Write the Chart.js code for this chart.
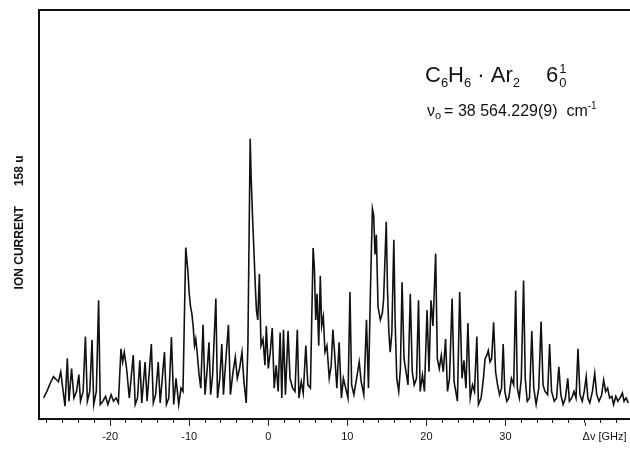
<!DOCTYPE html>
<html>
<head>
<meta charset="utf-8">
<title>C6H6·Ar2 6¹₀ band</title>
<script src="https://cdn.jsdelivr.net/npm/chart.js@4.4.1/dist/chart.umd.min.js"></script>
<style>
  html, body { margin: 0; padding: 0; background: #fff; }
  #wrap { width: 630px; height: 452px; }
</style>
</head>
<body>
<div id="wrap"><canvas id="chart" width="630" height="452"></canvas></div>
<script>
// frequency offset from the band origin, GHz
const shiftGHz = [
  -28.42, -28.0, -27.58, -27.17, -26.96, -26.75, -26.54, -26.25, -26.0, -25.71,
  -25.42, -25.21, -24.88, -24.58, -24.25, -23.96, -23.75, -23.42, -23.13, -22.88,
  -22.58, -22.29, -22.08, -21.75, -21.46, -21.25, -20.92, -20.58, -20.29, -19.88,
  -19.58, -19.25, -18.96, -18.63, -18.42, -18.21, -17.92, -17.58, -17.08, -16.83,
  -16.54, -16.25, -16.0, -15.58, -15.33, -14.79, -14.54, -14.25, -13.92, -13.67,
  -13.13, -12.88, -12.58, -12.25, -11.96, -11.67, -11.33, -11.04, -10.79, -10.44,
  -10.17, -10.0, -9.83, -9.67, -9.5, -9.33, -9.17, -9.0, -8.75, -8.54,
  -8.25, -8.0, -7.75, -7.5, -7.29, -7.04, -6.63, -6.42, -6.13, -5.88,
  -5.67, -5.42, -5.04, -4.79, -4.46, -4.17, -3.92, -3.63, -3.33, -3.08,
  -2.79, -2.58, -2.29, -2.17, -2.0, -1.83, -1.67, -1.5, -1.33, -1.13,
  -0.92, -0.67, -0.42, -0.25, 0.0, 0.25, 0.5, 0.75, 1.0, 1.25,
  1.5, 1.71, 1.92, 2.17, 2.5, 2.75, 3.08, 3.38, 3.67, 3.88,
  4.17, 4.42, 4.75, 5.0, 5.33, 5.67, 5.83, 6.0, 6.17, 6.38,
  6.58, 6.75, 6.96, 7.17, 7.42, 7.71, 7.96, 8.17, 8.38, 8.67,
  8.96, 9.25, 9.5, 9.79, 10.08, 10.33, 10.54, 10.83, 11.17, 11.5,
  11.75, 12.08, 12.42, 12.67, 12.92, 13.17, 13.33, 13.5, 13.67, 13.88,
  14.17, 14.42, 14.58, 14.75, 14.92, 15.08, 15.25, 15.42, 15.63, 15.88,
  16.04, 16.25, 16.5, 16.71, 16.92, 17.17, 17.42, 17.67, 17.96, 18.21,
  18.46, 18.75, 19.0, 19.21, 19.5, 19.75, 20.08, 20.33, 20.58, 20.83,
  21.17, 21.38, 21.63, 21.88, 22.13, 22.42, 22.67, 22.92, 23.25, 23.5,
  23.92, 24.21, 24.5, 24.75, 25.0, 25.25, 25.54, 25.83, 26.08, 26.38,
  26.58, 26.92, 27.21, 27.42, 27.63, 27.83, 28.04, 28.25, 28.5, 28.75,
  29.0, 29.25, 29.5, 29.71, 29.92, 30.17, 30.42, 30.75, 31.04, 31.29,
  31.5, 31.75, 32.0, 32.29, 32.5, 32.75, 33.04, 33.33, 33.58, 33.88,
  34.21, 34.5, 34.75, 35.0, 35.33, 35.58, 35.83, 36.17, 36.46, 36.75,
  37.0, 37.29, 37.58, 37.88, 38.08, 38.38, 38.67, 38.92, 39.17, 39.42,
  39.71, 39.96, 40.21, 40.42, 40.67, 41.0, 41.29, 41.54, 41.83, 42.17,
  42.42, 42.67, 42.92, 43.17, 43.46, 43.67, 43.96, 44.21, 44.5, 44.79,
  45.0, 45.25, 45.54
];

// ion current on mass 158 u, arbitrary units (axis runs 0..100)
const ionCurrent = [
  5.1, 6.7, 8.7, 10.3, 9.9, 9.5, 9.1, 11.5, 7.5, 3.1,
  14.8, 4.3, 12.3, 5.1, 6.7, 10.8, 4.3, 6.7, 20.1, 4.3,
  6.7, 19.3, 3.5, 6.7, 29.0, 3.5, 4.3, 5.5, 3.5, 5.9,
  4.3, 5.1, 3.9, 17.1, 13.9, 16.3, 12.3, 5.1, 15.6, 3.5,
  5.1, 14.3, 3.9, 13.9, 4.3, 18.3, 3.9, 5.9, 13.9, 3.9,
  16.3, 3.5, 5.1, 20.0, 3.5, 9.9, 3.5, 7.5, 6.7, 41.9,
  36.2, 30.6, 27.4, 25.8, 22.6, 17.9, 19.5, 16.3, 10.7, 7.5,
  23.0, 5.9, 11.5, 18.7, 5.9, 10.7, 29.4, 5.1, 9.9, 18.3,
  5.9, 13.1, 23.0, 5.9, 11.5, 15.1, 9.9, 12.3, 16.3, 9.1,
  3.9, 17.9, 68.5, 59.3, 49.8, 41.8, 33.8, 26.6, 24.2, 35.4,
  17.9, 19.5, 13.1, 22.7, 12.3, 16.3, 22.2, 7.5, 13.1, 6.7,
  21.1, 5.1, 21.8, 5.9, 21.5, 9.9, 7.5, 6.7, 21.8, 5.1,
  9.1, 6.3, 17.9, 8.3, 7.5, 41.8, 37.0, 24.2, 30.6, 17.9,
  35.0, 22.7, 25.0, 16.3, 17.9, 9.9, 13.1, 21.8, 16.3, 7.5,
  18.7, 5.1, 9.9, 7.5, 5.1, 31.0, 8.3, 5.9, 9.9, 13.9,
  9.1, 5.9, 24.2, 7.5, 31.4, 51.4, 49.8, 40.2, 45.0, 27.4,
  24.2, 25.8, 29.0, 38.6, 48.2, 31.4, 21.1, 16.3, 21.1, 43.8,
  24.2, 9.9, 6.7, 12.3, 33.4, 14.7, 11.5, 8.3, 30.6, 11.5,
  8.3, 9.9, 29.0, 6.7, 10.7, 6.7, 26.6, 11.5, 29.0, 22.7,
  40.4, 14.7, 12.3, 15.5, 11.5, 19.5, 6.7, 9.9, 29.4, 9.1,
  4.3, 31.0, 9.9, 14.3, 7.5, 23.4, 5.1, 8.3, 6.7, 20.1,
  3.5, 5.1, 9.9, 14.7, 15.5, 16.7, 13.9, 14.7, 23.6, 11.5,
  8.3, 5.9, 7.5, 18.3, 6.7, 4.3, 5.1, 9.9, 8.3, 31.4,
  7.5, 5.1, 9.9, 33.8, 9.9, 4.3, 5.1, 21.5, 7.5, 3.5,
  7.5, 23.8, 8.3, 6.7, 5.9, 18.3, 6.7, 4.3, 5.1, 12.7,
  5.9, 3.5, 5.1, 9.9, 4.3, 5.1, 6.7, 5.1, 17.1, 5.9,
  4.3, 6.7, 10.3, 5.1, 3.9, 6.7, 11.1, 5.9, 4.3, 5.9,
  9.5, 6.7, 7.5, 5.1, 5.5, 3.5, 5.5, 4.3, 5.1, 6.3,
  4.3, 5.1, 3.9
];

const xRange = [-29, 45.75];
const labelledTicks = [-20, -10, 0, 10, 20, 30];
const unitTick = 40;
const unitLabel = "Δv [GHz]";
const yTitle = "ION CURRENT      158 u";

const ink = "#111";
const fontFamily = "'Liberation Sans', Arial, Helvetica, sans-serif";

// writes a run of text pieces, each with its own size and vertical shift
function drawPieces(ctx, x, y, pieces) {
  pieces.forEach((p) => {
    ctx.font = (p.weight || "normal") + " " + p.size + "px " + fontFamily;
    ctx.fillText(p.t, x, y + (p.dy || 0));
    if (!p.stay) x += ctx.measureText(p.t).width + (p.gap || 0);
  });
  return x;
}

const decorations = {
  id: "decorations",
  afterDraw(chart) {
    const ctx = chart.ctx;
    const area = chart.chartArea;
    const xs = chart.scales.x;
    ctx.save();
    ctx.strokeStyle = ink;
    ctx.fillStyle = ink;

    // top frame line
    ctx.lineWidth = 2;
    ctx.beginPath();
    ctx.moveTo(area.left - 1, area.top);
    ctx.lineTo(area.right, area.top);
    ctx.stroke();

    // longer marks on the numbered ticks
    ctx.lineWidth = 1;
    labelledTicks.concat([unitTick]).forEach((v) => {
      const px = Math.round(xs.getPixelForValue(v)) + 0.5;
      ctx.beginPath();
      ctx.moveTo(px, area.bottom + 4);
      ctx.lineTo(px, area.bottom + 7);
      ctx.stroke();
    });

    // unit label sits where the 40 GHz number would be
    ctx.textBaseline = "middle";
    ctx.font = "11px " + fontFamily;
    ctx.fillText(unitLabel, xs.getPixelForValue(unitTick) - 2, area.bottom + 18);

    // vertical axis caption, a little below the middle of the frame
    ctx.save();
    ctx.translate(area.left - 19, (area.top + area.bottom) / 2 + 8);
    ctx.rotate(-Math.PI / 2);
    ctx.textAlign = "center";
    ctx.font = "bold 12px " + fontFamily;
    ctx.fillText(yTitle, 0, 0);
    ctx.restore();

    // species and band label
    ctx.textBaseline = "alphabetic";
    const y1 = area.top + 72;
    drawPieces(ctx, area.left + 386, y1, [
      { t: "C", size: 22 },
      { t: "6", size: 13, dy: 5 },
      { t: "H", size: 22 },
      { t: "6", size: 13, dy: 5 },
      { t: " · ", size: 22 },
      { t: "Ar", size: 22 },
      { t: "2", size: 13, dy: 5, gap: 26 },
      { t: "6", size: 22, gap: 1 },
      { t: "1", size: 13, dy: -9, stay: true },
      { t: "0", size: 13, dy: 5, gap: 0 }
    ]);

    // band origin
    const y2 = area.top + 106;
    drawPieces(ctx, area.left + 388, y2, [
      { t: "ν", size: 16 },
      { t: "o", size: 11, dy: 3, gap: 3 },
      { t: "= 38 564.229(9)  cm", size: 16 },
      { t: "-1", size: 10, dy: -7 }
    ]);
    ctx.restore();
  }
};

const points = shiftGHz.map((x, i) => ({ x: x, y: ionCurrent[i] }));

new Chart(document.getElementById("chart"), {
  type: "line",
  data: {
    datasets: [
      {
        data: points,
        borderColor: ink,
        borderWidth: 1.6,
        pointRadius: 0,
        tension: 0,
        fill: false,
      },
    ],
  },
  options: {
    responsive: false,
    animation: false,
    devicePixelRatio: 1,
    layout: { padding: { top: 10, right: 0, bottom: 0, left: 31 } },
    plugins: {
      legend: { display: false },
      tooltip: { enabled: false },
    },
    scales: {
      x: {
        type: "linear",
        min: xRange[0],
        max: xRange[1],
        grid: { drawOnChartArea: false, tickLength: 4, color: ink, lineWidth: 1 },
        border: { display: true, color: ink, width: 2 },
        ticks: {
          stepSize: 2,
          autoSkip: false,
          includeBounds: false,
          maxRotation: 0,
          padding: 8,
          color: ink,
          font: { family: fontFamily, size: 11 },
          callback: (v) => (labelledTicks.includes(v) ? String(v) : ""),
        },
      },
      y: {
        min: 0,
        max: 100,
        grid: { display: false },
        border: { display: true, color: ink, width: 2 },
        ticks: { display: false },
      },
    },
  },
  plugins: [decorations],
});
</script>
</body>
</html>
